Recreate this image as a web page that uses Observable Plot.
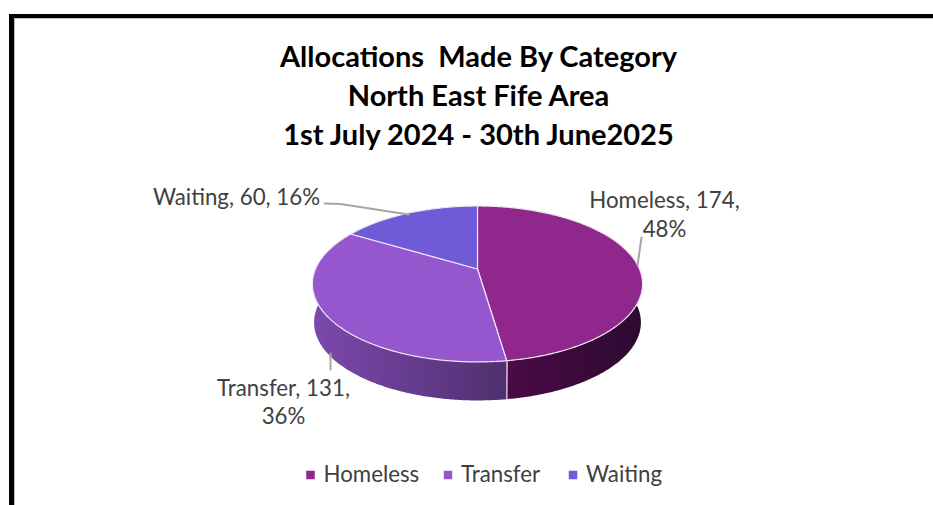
<!DOCTYPE html>
<html>
<head>
<meta charset="utf-8">
<style>html,body{margin:0;padding:0;background:#fff;overflow:hidden}svg{display:block}</style>
<script src="https://cdn.jsdelivr.net/npm/d3@7"></script>
<script src="https://cdn.jsdelivr.net/npm/@observablehq/plot@0.6"></script>
</head>
<body>
<script>
const categories = ["Homeless", "Transfer", "Waiting"];
const values = [174, 131, 60];
const percents = [48, 36, 16];
const titleLines = ["Allocations  Made By Category", "North East Fife Area", "1st July 2024 - 30th June2025"];
const colors = ["#90278c", "#9556ce", "#6f5ad8"];

const W = 933, H = 505;
const FONT = "Lato, Carlito, sans-serif";
// projection of the pie disc
const cx = 477.5, apexY = 269, A = 162, B = 75.1, K = 0.192, depth = 38.5, bottomScale = 0.99;
const project = (t) => {
  const u = Math.sin(t), v = -Math.cos(t), w = 1 - K * v;
  return [cx + A * u / w, apexY + B * v / w];
};
const projectBottom = (t) => {
  const [x, y] = project(t);
  return [cx + (x - cx) * bottomScale, y + depth];
};

const arcs = d3.pie().sort(null)(values);
const topPts = [], sidePts = [], seams = [];
arcs.forEach((a, i) => {
  const n = Math.ceil((a.endAngle - a.startAngle) / 0.01);
  for (let k = 0; k <= n; k++) {
    const t = a.startAngle + (a.endAngle - a.startAngle) * k / n;
    const [x, y] = project(t), [xb, yb] = projectBottom(t);
    topPts.push({c: categories[i], ax: cx, ay: apexY, x, y});
    sidePts.push({c: categories[i], x, y, xb, yb});
  }
  const [x, y] = project(a.endAngle), [xb, yb] = projectBottom(a.endAngle);
  seams.push({x, y, xb, yb});
});

const sideFill = {Homeless: "url(#sideH)", Transfer: "url(#sideT)", Waiting: "#4a3f98"};

const gradient = (id, x1, x2, c1, c2) =>
  `<linearGradient id="${id}" gradientUnits="userSpaceOnUse" x1="${x1}" x2="${x2}" y1="0" y2="0"><stop offset="0" stop-color="${c1}"/><stop offset="1" stop-color="${c2}"/></linearGradient>`;
const defs = () => {
  const g = d3.create("svg:defs");
  g.html(gradient("sideT", 315, 506, "#7c48ad", "#50306f") + gradient("sideH", 506, 640, "#4b0a47", "#2d0a31"));
  return g.node();
};

const frame = [
  {x1: 9, x2: W, y1: 14, y2: 18, f: "#000"},
  {x1: 9, x2: 14, y1: 14, y2: H, f: "#000"},
  {x1: 14, x2: W, y1: 18, y2: 19, f: "#bdbdbd"},
  {x1: 14, x2: 15, y1: 18, y2: H, f: "#bdbdbd"}
];
const leaders = [
  {c: "Homeless", pts: [[641, 237], [637, 265]]},
  {c: "Transfer", pts: [[330, 353], [330, 369]]},
  {c: "Waiting", pts: [[324, 203], [340, 203.5], [408, 214]]}
].flatMap(l => l.pts.map(([x, y]) => ({c: l.c, x, y})));

const labelText = (i) => `${categories[i]}, ${values[i]}, ${percents[i]}%`;
const dataLabels = [
  {x: 664, y: 213, t: labelText(0).replace(/, (\d+%)$/, ",\n$1")},
  {x: 283, y: 400.5, t: labelText(1).replace(/, (\d+%)$/, ",\n$1")},
  {x: 236, y: 195, t: labelText(2)}
];
const titleRows = titleLines.map((t, i) => ({t, x: 478, y: [57, 96, 135][i]}));
const legendX = [310, 447.5, 572.5];
const legendRows = categories.map((c, i) => ({c, x: legendX[i], y: 474.5, tx: legendX[i] + 13}));

const chart = Plot.plot({
  width: W, height: H,
  margin: 0,
  style: {background: "#fff", fontFamily: FONT},
  x: {domain: [0, W], range: [0, W], axis: null},
  y: {domain: [0, H], range: [0, H], axis: null},
  marks: [
    defs,
    Plot.rect(frame, {x1: "x1", x2: "x2", y1: "y1", y2: "y2", fill: "f"}),
    Plot.area(sidePts, {x1: "x", y1: "y", x2: "xb", y2: "yb", z: "c", fill: d => sideFill[d.c]}),
    Plot.link(seams.slice(0, 1), {x1: "x", y1: "y", x2: "xb", y2: "yb", stroke: "#e6dcec", strokeWidth: 1.2}),
    Plot.area(topPts, {x1: "ax", y1: "ay", x2: "x", y2: "y", z: "c",
      fill: d => colors[categories.indexOf(d.c)], stroke: "#eee6f2", strokeWidth: 1.2, strokeLinejoin: "round"}),
    Plot.line(leaders, {x: "x", y: "y", z: "c", stroke: "#a6a6a6", strokeWidth: 2}),
    Plot.text(titleRows, {x: "x", y: "y", text: "t", fontSize: 29, fontWeight: 700, fill: "#000", fontFamily: FONT}),
    Plot.text(dataLabels, {x: "x", y: "y", text: "t", fontSize: 22.3, fill: "#404040", fontFamily: FONT, lineHeight: 1.28}),
    Plot.dot(legendRows, {x: "x", y: "y", symbol: "square", r: 4.8, fill: d => colors[categories.indexOf(d.c)]}),
    Plot.text(legendRows, {x: "tx", y: "y", text: "c", textAnchor: "start", fontSize: 22.3, fill: "#404040", fontFamily: FONT})
  ]
});
document.body.appendChild(chart);
</script>
</body>
</html>
